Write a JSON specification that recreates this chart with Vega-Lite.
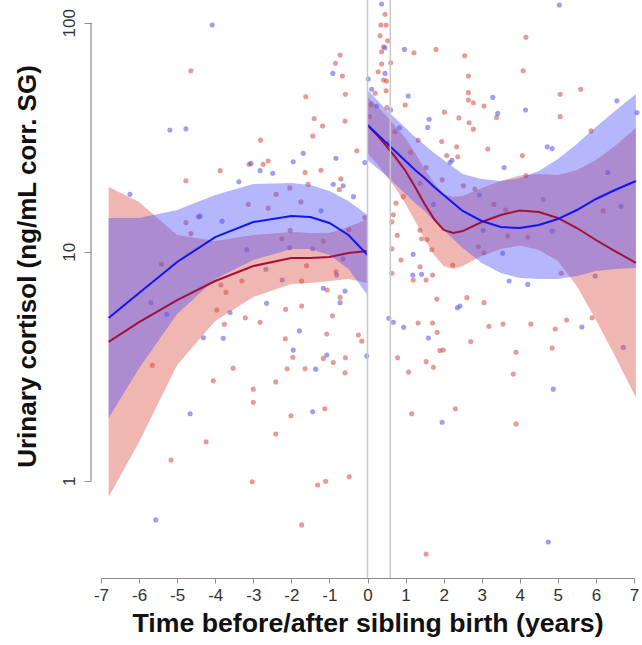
{
  "$schema": "https://vega.github.io/schema/vega-lite/v6.json",
  "width": 533,
  "height": 578,
  "autosize": {"type": "none"},
  "padding": {"left": 101, "top": 0, "right": 8, "bottom": 67},
  "background": "white",
  "datasets": {
    "pts": [
      {"g":"red","x":-4.64,"y":61.7},{"g":"red","x":-0.72,"y":72.3},{"g":"red","x":-0.84,"y":66.5},{"g":"red","x":-0.66,"y":58.5},{"g":"red","x":-0.58,"y":48.7},{"g":"red","x":-1.62,"y":47.5},{"g":"red","x":-1.40,"y":38.2},{"g":"red","x":-1.18,"y":35.4},{"g":"red","x":-1.44,"y":32.0},{"g":"red","x":-0.59,"y":37.2},{"g":"red","x":-2.81,"y":30.7},{"g":"red","x":-0.28,"y":27.6},{"g":"red","x":-3.11,"y":24.1},{"g":"red","x":-2.74,"y":24.1},{"g":"red","x":-2.61,"y":24.9},{"g":"red","x":-3.87,"y":22.6},{"g":"red","x":-4.77,"y":20.4},{"g":"red","x":-1.64,"y":22.2},{"g":"red","x":-1.22,"y":22.7},{"g":"red","x":-0.70,"y":20.8},{"g":"red","x":-0.74,"y":18.7},{"g":"red","x":-1.56,"y":19.7},{"g":"red","x":-2.04,"y":19.0},{"g":"red","x":-2.40,"y":17.8},{"g":"red","x":-1.75,"y":16.5},{"g":"red","x":-3.13,"y":16.1},{"g":"red","x":-4.44,"y":14.2},{"g":"red","x":-4.77,"y":13.4},{"g":"red","x":-4.64,"y":12.0},{"g":"red","x":-2.03,"y":12.4},{"g":"red","x":-2.61,"y":15.5},{"g":"red","x":-2.25,"y":11.4},{"g":"red","x":-1.16,"y":11.1},{"g":"red","x":-0.49,"y":12.5},{"g":"red","x":-0.07,"y":14.1},{"g":"red","x":-5.41,"y":8.81},{"g":"red","x":-1.60,"y":8.69},{"g":"red","x":-0.83,"y":8.18},{"g":"red","x":-0.64,"y":9.29},
      {"g":"red","x":-5.65,"y":3.19},{"g":"red","x":-3.85,"y":7.15},{"g":"red","x":-3.72,"y":6.65},{"g":"red","x":-3.30,"y":7.45},{"g":"red","x":-3.96,"y":5.56},{"g":"red","x":-3.76,"y":4.82},{"g":"red","x":-3.21,"y":5.15},{"g":"red","x":-2.82,"y":4.92},{"g":"red","x":-2.15,"y":5.60},{"g":"red","x":-1.73,"y":5.79},{"g":"red","x":-1.73,"y":7.45},{"g":"red","x":-1.06,"y":6.80},{"g":"red","x":-0.72,"y":6.32},{"g":"red","x":-0.92,"y":5.25},{"g":"red","x":-1.07,"y":4.37},{"g":"red","x":-2.16,"y":4.17},{"g":"red","x":-1.96,"y":3.46},{"g":"red","x":-1.16,"y":3.42},{"g":"red","x":-0.90,"y":3.28},{"g":"red","x":-0.58,"y":3.44},{"g":"red","x":-0.59,"y":2.96},{"g":"red","x":-0.24,"y":4.33},{"g":"red","x":-0.15,"y":4.07},{"g":"red","x":-2.11,"y":3.08},{"g":"red","x":-1.64,"y":3.08},{"g":"red","x":-3.53,"y":3.10},{"g":"red","x":-4.05,"y":2.73},{"g":"red","x":-3.00,"y":2.51},{"g":"red","x":-2.41,"y":2.70},{"g":"red","x":-3.00,"y":2.20},{"g":"red","x":-2.01,"y":1.92},{"g":"red","x":-1.12,"y":2.06},{"g":"red","x":-4.24,"y":1.48},{"g":"red","x":-2.41,"y":1.60},{"g":"red","x":-5.16,"y":1.23},{"g":"red","x":-3.03,"y":0.99},{"g":"red","x":-1.31,"y":0.958},{"g":"red","x":-1.10,"y":0.994},{"g":"red","x":-0.48,"y":1.04},{"g":"red","x":-1.73,"y":0.641},
      {"g":"red","x":0.46,"y":109},{"g":"red","x":0.49,"y":97.7},{"g":"red","x":0.35,"y":97.7},{"g":"red","x":0.33,"y":87.8},{"g":"red","x":0.53,"y":83.4},{"g":"red","x":0.42,"y":78.6},{"g":"red","x":0.37,"y":74.7},{"g":"red","x":0.61,"y":66.9},{"g":"red","x":0.37,"y":66.0},{"g":"red","x":0.28,"y":61.1},{"g":"red","x":0.42,"y":56.2},{"g":"red","x":0.50,"y":55.6},{"g":"red","x":0.49,"y":50.5},{"g":"red","x":0.20,"y":49.2},{"g":"red","x":0.09,"y":44.0},{"g":"red","x":0.51,"y":42.6},{"g":"red","x":0.05,"y":38.9},{"g":"red","x":0.72,"y":33.4},{"g":"red","x":1.22,"y":74.0},{"g":"red","x":1.80,"y":76.5},{"g":"red","x":4.16,"y":86.4},{"g":"red","x":2.55,"y":71.8},{"g":"red","x":4.09,"y":61.7},{"g":"red","x":2.65,"y":58.5},{"g":"red","x":0.99,"y":43.7},{"g":"red","x":2.02,"y":40.7},{"g":"red","x":2.65,"y":49.5},{"g":"red","x":2.65,"y":46.0},{"g":"red","x":2.78,"y":44.7},{"g":"red","x":3.06,"y":43.3},{"g":"red","x":3.39,"y":38.6},{"g":"red","x":5.06,"y":48.7},{"g":"red","x":5.60,"y":51.2},{"g":"red","x":5.06,"y":38.9},{"g":"red","x":2.40,"y":38.4},{"g":"red","x":2.67,"y":36.6},{"g":"red","x":2.78,"y":34.3},{"g":"red","x":1.95,"y":30.3},{"g":"red","x":1.33,"y":30.7},{"g":"red","x":2.34,"y":28.7},{"g":"red","x":3.16,"y":28.1},{"g":"red","x":5.87,"y":33.7},{"g":"red","x":2.08,"y":26.3},{"g":"red","x":2.37,"y":26.0},{"g":"red","x":1.13,"y":27.2},{"g":"red","x":4.07,"y":26.3},{"g":"red","x":4.16,"y":21.5},{"g":"red","x":1.54,"y":23.3},{"g":"red","x":1.96,"y":20.6},{"g":"red","x":2.52,"y":19.4},{"g":"red","x":2.82,"y":18.8},{"g":"red","x":4.62,"y":16.9},{"g":"red","x":0.94,"y":17.4},{"g":"red","x":1.38,"y":19.9},{"g":"red","x":3.32,"y":16.1},{"g":"red","x":3.63,"y":15.2},{"g":"red","x":6.19,"y":15.1},{"g":"red","x":2.91,"y":10.5},{"g":"red","x":3.06,"y":9.90},{"g":"red","x":3.68,"y":11.7},{"g":"red","x":4.21,"y":11.6},{"g":"red","x":5.09,"y":8.05},{"g":"red","x":0.75,"y":16.3},{"g":"red","x":0.68,"y":14.5},{"g":"red","x":0.64,"y":13.5},{"g":"red","x":0.78,"y":11.8},{"g":"red","x":1.38,"y":12.4},{"g":"red","x":1.42,"y":11.4},{"g":"red","x":1.56,"y":11.3},{"g":"red","x":1.69,"y":10.2},{"g":"red","x":0.64,"y":10.3},{"g":"red","x":0.88,"y":9.20},{"g":"red","x":1.38,"y":8.60},{"g":"red","x":2.24,"y":8.75},
      {"g":"red","x":0.64,"y":8.05},{"g":"red","x":1.20,"y":7.52},{"g":"red","x":1.54,"y":7.52},{"g":"red","x":1.71,"y":7.91},{"g":"red","x":1.82,"y":6.21},{"g":"red","x":2.61,"y":6.30},{"g":"red","x":3.06,"y":5.99},{"g":"red","x":1.33,"y":4.88},{"g":"red","x":1.71,"y":4.88},{"g":"red","x":1.83,"y":4.45},{"g":"red","x":3.19,"y":4.72},{"g":"red","x":3.56,"y":4.83},{"g":"red","x":4.29,"y":4.83},{"g":"red","x":4.93,"y":4.60},{"g":"red","x":5.23,"y":5.03},{"g":"red","x":5.90,"y":5.15},{"g":"red","x":4.85,"y":3.80},{"g":"red","x":3.90,"y":3.64},{"g":"red","x":2.71,"y":4.05},{"g":"red","x":1.90,"y":3.70},{"g":"red","x":1.99,"y":3.72},{"g":"red","x":0.79,"y":3.44},{"g":"red","x":1.54,"y":3.31},{"g":"red","x":1.73,"y":3.13},{"g":"red","x":1.08,"y":2.98},{"g":"red","x":3.83,"y":2.92},{"g":"red","x":1.16,"y":1.96},{"g":"red","x":2.31,"y":2.06},{"g":"red","x":3.90,"y":1.77},{"g":"red","x":1.54,"y":0.478},
      {"g":"blue","x":-4.08,"y":97.7},{"g":"blue","x":-5.19,"y":34.0},{"g":"blue","x":-4.77,"y":34.4},{"g":"blue","x":-6.24,"y":17.8},{"g":"blue","x":-0.91,"y":60.1},{"g":"blue","x":-1.69,"y":26.9},{"g":"blue","x":-0.83,"y":25.6},{"g":"blue","x":-1.95,"y":24.7},{"g":"blue","x":-3.06,"y":24.3},{"g":"blue","x":-2.82,"y":22.6},{"g":"blue","x":-2.49,"y":22.0},{"g":"blue","x":-3.38,"y":20.2},{"g":"blue","x":-0.07,"y":24.5},{"g":"blue","x":-0.90,"y":19.7},{"g":"blue","x":-0.64,"y":19.4},{"g":"blue","x":-0.37,"y":17.4},{"g":"blue","x":-1.22,"y":15.1},{"g":"blue","x":-4.40,"y":14.3},{"g":"blue","x":-3.82,"y":13.6},{"g":"blue","x":-3.17,"y":10.2},{"g":"blue","x":-2.04,"y":10.4},{"g":"blue","x":-1.44,"y":10.3},{"g":"blue","x":-2.67,"y":8.38},{"g":"blue","x":-0.81,"y":7.91},
      {"g":"blue","x":-5.69,"y":5.99},{"g":"blue","x":-5.27,"y":5.33},{"g":"blue","x":-2.24,"y":7.52},{"g":"blue","x":-2.65,"y":5.95},{"g":"blue","x":-3.61,"y":5.42},{"g":"blue","x":-4.31,"y":4.21},{"g":"blue","x":-3.79,"y":4.19},{"g":"blue","x":-1.79,"y":4.51},{"g":"blue","x":-1.95,"y":3.72},{"g":"blue","x":-1.16,"y":6.92},{"g":"blue","x":-0.59,"y":6.74},{"g":"blue","x":-0.72,"y":5.99},{"g":"blue","x":-1.07,"y":3.54},{"g":"blue","x":-1.36,"y":3.07},{"g":"blue","x":-0.02,"y":3.50},{"g":"blue","x":-4.66,"y":1.96},{"g":"blue","x":-1.44,"y":2.00},{"g":"blue","x":-5.56,"y":0.674},
      {"g":"blue","x":0.37,"y":120.7},{"g":"blue","x":0.46,"y":77.8},{"g":"blue","x":0.46,"y":60.1},{"g":"blue","x":0.02,"y":56.8},{"g":"blue","x":0.11,"y":51.2},{"g":"blue","x":0.24,"y":43.3},{"g":"blue","x":0.61,"y":41.6},{"g":"blue","x":0.84,"y":34.8},{"g":"blue","x":0.57,"y":29.9},{"g":"blue","x":0.97,"y":76.5},{"g":"blue","x":5.04,"y":119.5},{"g":"blue","x":1.07,"y":47.9},{"g":"blue","x":3.29,"y":47.2},{"g":"blue","x":3.42,"y":40.2},{"g":"blue","x":4.15,"y":41.6},{"g":"blue","x":6.55,"y":45.6},{"g":"blue","x":7.08,"y":40.5},{"g":"blue","x":1.62,"y":37.9},{"g":"blue","x":1.58,"y":34.9},{"g":"blue","x":4.72,"y":28.7},{"g":"blue","x":4.85,"y":28.2},{"g":"blue","x":2.22,"y":25.1},{"g":"blue","x":2.17,"y":24.5},{"g":"blue","x":3.59,"y":23.3},{"g":"blue","x":2.94,"y":17.7},{"g":"blue","x":6.31,"y":22.2},{"g":"blue","x":1.73,"y":16.1},{"g":"blue","x":6.66,"y":15.8},{"g":"blue","x":3.04,"y":12.4},{"g":"blue","x":4.85,"y":12.3},{"g":"blue","x":3.55,"y":9.84},{"g":"blue","x":5.98,"y":7.83},{"g":"blue","x":1.20,"y":9.74},{"g":"blue","x":1.19,"y":7.91},{"g":"blue","x":1.42,"y":7.97},
      {"g":"blue","x":3.72,"y":7.45},{"g":"blue","x":4.21,"y":7.20},{"g":"blue","x":2.36,"y":5.69},{"g":"blue","x":2.43,"y":5.79},{"g":"blue","x":0.56,"y":5.12},{"g":"blue","x":0.68,"y":4.92},{"g":"blue","x":0.95,"y":4.68},{"g":"blue","x":1.60,"y":4.20},{"g":"blue","x":5.63,"y":4.69},{"g":"blue","x":6.72,"y":3.82},{"g":"blue","x":4.88,"y":2.51},{"g":"blue","x":1.96,"y":1.80},{"g":"blue","x":4.75,"y":0.540}
    ],
    "fits": [
      {"seg":"pre","g":"blue","x":-6.8,"fit":5.13,"lo":1.876,"hi":14.03},
      {"seg":"pre","g":"blue","x":-6,"fit":6.60,"lo":3.10,"hi":14.03},
      {"seg":"pre","g":"blue","x":-5,"fit":9.02,"lo":5.35,"hi":15.22},
      {"seg":"pre","g":"blue","x":-4,"fit":11.59,"lo":7.60,"hi":17.67},
      {"seg":"pre","g":"blue","x":-3,"fit":13.48,"lo":9.20,"hi":19.75},
      {"seg":"pre","g":"blue","x":-2,"fit":14.32,"lo":10.27,"hi":19.96},
      {"seg":"pre","g":"blue","x":-1.5,"fit":14.18,"lo":10.28,"hi":19.57},
      {"seg":"pre","g":"blue","x":-1,"fit":13.35,"lo":9.67,"hi":18.42},
      {"seg":"pre","g":"blue","x":-0.5,"fit":11.83,"lo":8.40,"hi":16.66},
      {"seg":"pre","g":"blue","x":0,"fit":9.67,"lo":6.47,"hi":14.46},
      {"seg":"pre","g":"red","x":-6.8,"fit":4.035,"lo":0.849,"hi":19.18},
      {"seg":"pre","g":"red","x":-6,"fit":4.93,"lo":1.475,"hi":16.48},
      {"seg":"pre","g":"red","x":-5,"fit":6.15,"lo":3.20,"hi":11.82},
      {"seg":"pre","g":"red","x":-4,"fit":7.45,"lo":4.98,"hi":11.14},
      {"seg":"pre","g":"red","x":-3,"fit":8.66,"lo":6.34,"hi":11.83},
      {"seg":"pre","g":"red","x":-2,"fit":9.39,"lo":7.23,"hi":12.20},
      {"seg":"pre","g":"red","x":-1.5,"fit":9.39,"lo":7.30,"hi":12.08},
      {"seg":"pre","g":"red","x":-1,"fit":9.48,"lo":7.45,"hi":12.07},
      {"seg":"pre","g":"red","x":-0.5,"fit":9.87,"lo":7.60,"hi":12.82},
      {"seg":"pre","g":"red","x":0,"fit":10.07,"lo":7.30,"hi":13.90},
      {"seg":"post","g":"blue","x":0,"fit":35.75,"lo":25.14,"hi":50.84},
      {"seg":"post","g":"blue","x":0.25,"fit":32.66,"lo":23.20,"hi":45.99},
      {"seg":"post","g":"blue","x":0.5,"fit":29.83,"lo":21.40,"hi":41.58},
      {"seg":"post","g":"blue","x":0.75,"fit":27.25,"lo":19.55,"hi":37.99},
      {"seg":"post","g":"blue","x":1,"fit":24.89,"lo":17.86,"hi":34.70},
      {"seg":"post","g":"blue","x":1.25,"fit":22.74,"lo":16.31,"hi":31.70},
      {"seg":"post","g":"blue","x":1.5,"fit":20.98,"lo":15.05,"hi":29.25},
      {"seg":"post","g":"blue","x":1.75,"fit":19.16,"lo":13.61,"hi":26.98},
      {"seg":"post","g":"blue","x":2,"fit":17.69,"lo":12.44,"hi":25.16},
      {"seg":"post","g":"blue","x":2.25,"fit":16.32,"lo":11.36,"hi":23.44},
      {"seg":"post","g":"blue","x":2.5,"fit":15.06,"lo":10.39,"hi":21.84},
      {"seg":"post","g":"blue","x":3,"fit":13.62,"lo":8.93,"hi":20.77},
      {"seg":"post","g":"blue","x":3.5,"fit":12.82,"lo":8.07,"hi":20.36},
      {"seg":"post","g":"blue","x":4,"fit":12.69,"lo":7.68,"hi":20.98},
      {"seg":"post","g":"blue","x":4.5,"fit":13.08,"lo":7.60,"hi":22.51},
      {"seg":"post","g":"blue","x":5,"fit":13.89,"lo":7.60,"hi":25.39},
      {"seg":"post","g":"blue","x":5.5,"fit":15.21,"lo":7.83,"hi":29.54},
      {"seg":"post","g":"blue","x":6,"fit":16.99,"lo":8.24,"hi":35.05},
      {"seg":"post","g":"blue","x":6.5,"fit":18.60,"lo":8.40,"hi":41.16},
      {"seg":"post","g":"blue","x":7.05,"fit":20.36,"lo":8.49,"hi":48.84},
      {"seg":"post","g":"red","x":0,"fit":35.75,"lo":26.98,"hi":47.37},
      {"seg":"post","g":"red","x":0.25,"fit":32.33,"lo":24.14,"hi":43.29},
      {"seg":"post","g":"red","x":0.5,"fit":28.94,"lo":21.41,"hi":39.13},
      {"seg":"post","g":"red","x":0.75,"fit":25.65,"lo":18.78,"hi":35.04},
      {"seg":"post","g":"red","x":1,"fit":22.51,"lo":16.15,"hi":31.38},
      {"seg":"post","g":"red","x":1.25,"fit":19.16,"lo":13.61,"hi":26.98},
      {"seg":"post","g":"red","x":1.5,"fit":16.16,"lo":11.36,"hi":22.98},
      {"seg":"post","g":"red","x":1.75,"fit":13.89,"lo":9.67,"hi":19.95},
      {"seg":"post","g":"red","x":2,"fit":12.44,"lo":8.66,"hi":17.86},
      {"seg":"post","g":"red","x":2.25,"fit":12.07,"lo":8.41,"hi":17.33},
      {"seg":"post","g":"red","x":2.5,"fit":12.31,"lo":8.66,"hi":17.50},
      {"seg":"post","g":"red","x":3,"fit":13.48,"lo":9.57,"hi":18.98},
      {"seg":"post","g":"red","x":3.5,"fit":14.47,"lo":10.28,"hi":20.37},
      {"seg":"post","g":"red","x":4,"fit":15.13,"lo":10.64,"hi":21.51},
      {"seg":"post","g":"red","x":4.5,"fit":14.91,"lo":10.18,"hi":21.84},
      {"seg":"post","g":"red","x":5,"fit":14.04,"lo":9.11,"hi":21.64},
      {"seg":"post","g":"red","x":5.5,"fit":12.69,"lo":7.08,"hi":22.74},
      {"seg":"post","g":"red","x":6,"fit":11.25,"lo":5.03,"hi":25.16},
      {"seg":"post","g":"red","x":6.5,"fit":10.07,"lo":3.50,"hi":28.94},
      {"seg":"post","g":"red","x":7.05,"fit":8.93,"lo":2.30,"hi":34.71}
    ],
    "events": [{"x": 0}, {"x": 0.6}]
  },
  "layer": [
    {
      "data": {"name": "pts"},
      "mark": {"type": "circle", "size": 26, "opacity": 0.55},
      "encoding": {
        "x": {
          "field": "x", "type": "quantitative",
          "title": "Time before/after sibling birth (years)",
          "scale": {"domain": [-7, 7], "nice": false, "zero": false},
          "axis": {"values": [-7, -6, -5, -4, -3, -2, -1, 0, 1, 2, 3, 4, 5, 6, 7],
                   "labelExpr": "datum.value < 0 ? '-' + abs(datum.value) : '' + datum.value",
                   "labelOverlap": false, "labelFlush": false}
        },
        "y": {"field": "y", "type": "quantitative", "title": "Urinary cortisol (ng/mL corr. SG)",
              "scale": {"type": "log", "domain": [0.3758, 125.7], "nice": false, "zero": false},
              "axis": {"values": [1, 10, 100], "offset": 10, "domain": false, "titleX": -64, "titleY": 266}},
        "color": {"field": "g", "type": "nominal", "legend": null,
                  "scale": {"domain": ["red", "blue"], "range": ["#d2483e", "#5050e6"]}}
      }
    },
    {
      "data": {"name": "fits"},
      "transform": [{"filter": "datum.g == 'red'"}],
      "mark": {"type": "area", "color": "#dc5046", "opacity": 0.42},
      "encoding": {
        "x": {"field": "x", "type": "quantitative", "title": "Time before/after sibling birth (years)",
              "axis": {"values": [-7, -6, -5, -4, -3, -2, -1, 0, 1, 2, 3, 4, 5, 6, 7],
                       "labelExpr": "datum.value < 0 ? '-' + abs(datum.value) : '' + datum.value",
                       "labelOverlap": false, "labelFlush": false}},
        "y": {"field": "lo", "type": "quantitative", "title": "Urinary cortisol (ng/mL corr. SG)",
              "axis": {"values": [1, 10, 100], "offset": 10, "domain": false, "titleX": -64, "titleY": 266}},
        "y2": {"field": "hi"},
        "detail": {"field": "seg"}
      }
    },
    {
      "data": {"name": "fits"},
      "transform": [{"filter": "datum.g == 'blue'"}],
      "mark": {"type": "area", "color": "#5050fa", "opacity": 0.42},
      "encoding": {
        "x": {"field": "x", "type": "quantitative", "title": "Time before/after sibling birth (years)",
              "axis": {"values": [-7, -6, -5, -4, -3, -2, -1, 0, 1, 2, 3, 4, 5, 6, 7],
                       "labelExpr": "datum.value < 0 ? '-' + abs(datum.value) : '' + datum.value",
                       "labelOverlap": false, "labelFlush": false}},
        "y": {"field": "lo", "type": "quantitative", "title": "Urinary cortisol (ng/mL corr. SG)",
              "axis": {"values": [1, 10, 100], "offset": 10, "domain": false, "titleX": -64, "titleY": 266}},
        "y2": {"field": "hi"},
        "detail": {"field": "seg"}
      }
    },
    {
      "data": {"name": "fits"},
      "transform": [{"filter": "datum.g == 'red'"}],
      "mark": {"type": "line", "color": "#a3103a", "strokeWidth": 2},
      "encoding": {
        "x": {"field": "x", "type": "quantitative", "title": "Time before/after sibling birth (years)",
              "axis": {"values": [-7, -6, -5, -4, -3, -2, -1, 0, 1, 2, 3, 4, 5, 6, 7],
                       "labelExpr": "datum.value < 0 ? '-' + abs(datum.value) : '' + datum.value",
                       "labelOverlap": false, "labelFlush": false}},
        "y": {"field": "fit", "type": "quantitative", "title": "Urinary cortisol (ng/mL corr. SG)",
              "axis": {"values": [1, 10, 100], "offset": 10, "domain": false, "titleX": -64, "titleY": 266}},
        "detail": {"field": "seg"}
      }
    },
    {
      "data": {"name": "fits"},
      "transform": [{"filter": "datum.g == 'blue'"}],
      "mark": {"type": "line", "color": "#1414f0", "strokeWidth": 2},
      "encoding": {
        "x": {"field": "x", "type": "quantitative", "title": "Time before/after sibling birth (years)",
              "axis": {"values": [-7, -6, -5, -4, -3, -2, -1, 0, 1, 2, 3, 4, 5, 6, 7],
                       "labelExpr": "datum.value < 0 ? '-' + abs(datum.value) : '' + datum.value",
                       "labelOverlap": false, "labelFlush": false}},
        "y": {"field": "fit", "type": "quantitative", "title": "Urinary cortisol (ng/mL corr. SG)",
              "axis": {"values": [1, 10, 100], "offset": 10, "domain": false, "titleX": -64, "titleY": 266}},
        "detail": {"field": "seg"}
      }
    },
    {
      "data": {"name": "events"},
      "mark": {"type": "rule", "color": "#c8c8c8", "strokeWidth": 1.5},
      "encoding": {
        "x": {"field": "x", "type": "quantitative", "title": "Time before/after sibling birth (years)",
              "axis": {"values": [-7, -6, -5, -4, -3, -2, -1, 0, 1, 2, 3, 4, 5, 6, 7],
                       "labelExpr": "datum.value < 0 ? '-' + abs(datum.value) : '' + datum.value",
                       "labelOverlap": false, "labelFlush": false}}
      }
    },
    {
      "data": {"values": [{"k": 1}]},
      "mark": {"type": "rule", "color": "#8c8c8c", "strokeWidth": 1.2, "xOffset": -10},
      "encoding": {
        "x": {"datum": -7, "type": "quantitative", "title": "Time before/after sibling birth (years)",
              "axis": {"values": [-7, -6, -5, -4, -3, -2, -1, 0, 1, 2, 3, 4, 5, 6, 7],
                       "labelExpr": "datum.value < 0 ? '-' + abs(datum.value) : '' + datum.value",
                       "labelOverlap": false, "labelFlush": false}},
        "y": {"datum": 1, "type": "quantitative", "title": "Urinary cortisol (ng/mL corr. SG)",
              "axis": {"values": [1, 10, 100], "offset": 10, "domain": false, "titleX": -64, "titleY": 266}},
        "y2": {"datum": 100}
      }
    }
  ],
  "config": {
    "view": {"stroke": null},
    "font": "Liberation Sans",
    "axis": {
      "grid": false, "domainColor": "#8c8c8c", "tickColor": "#8c8c8c",
      "labelFont": "Liberation Sans", "labelFontSize": 17, "labelColor": "#333333",
      "titleFont": "Liberation Sans", "titleFontSize": 26, "titleFontWeight": "bold", "titleColor": "#111111"
    },
    "axisX": {
      "tickSize": 5, "labelPadding": 4, "titlePadding": 7, "titleFontSize": 26.7,
      "labelFlush": false, "labelOverlap": false
    },
    "axisY": {
      "domain": false, "tickSize": 7,
      "labelAngle": -90, "labelAlign": "center", "labelBaseline": "alphabetic", "labelPadding": 10,
      "titleAngle": -90, "titleAlign": "center", "titleBaseline": "middle"
    }
  }
}
